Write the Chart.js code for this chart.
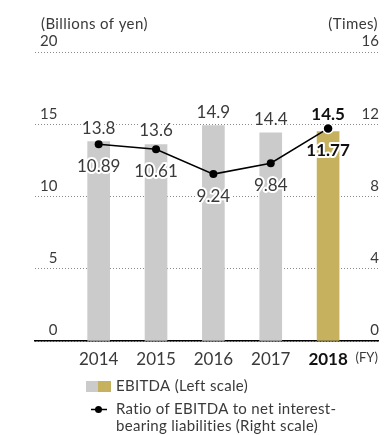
<!DOCTYPE html>
<html>
<head>
<meta charset="utf-8">
<script src="https://cdn.jsdelivr.net/npm/chart.js@4"></script>
<style>
  html, body { margin: 0; padding: 0; background: #fff; }
  #wrap { width: 392px; height: 435px; position: relative; }
</style>
</head>
<body>
<div id="wrap"><canvas id="c" width="392" height="435"></canvas></div>
<script>
// Fiscal years, EBITDA (billions of yen) and EBITDA / net interest-bearing liabilities (times)
const years = [2014, 2015, 2016, 2017, 2018];
const ebitda = [13.8, 13.6, 14.9, 14.4, 14.5];
const ratio = [10.89, 10.61, 9.24, 9.84, 11.77];
const leftTicks = [0, 5, 10, 15, 20];
const rightTicks = [0, 4, 8, 12, 16];
const leftUnit = '(Billions of yen)';
const rightUnit = '(Times)';
const fyLabel = '(FY)';
const legendBar = 'EBITDA (Left scale)';
const legendLine = ['Ratio of EBITDA to net interest-', 'bearing liabilities (Right scale)'];

const FONT = 'Lato, "Open Sans", sans-serif';
const GRAY = '#cacbca';
const GOLD = '#c6b15e';
const TEXT = '#3a3a3a';
const last = years.length - 1;

function haloText(ctx, txt, x, y) {
  ctx.save();
  ctx.lineJoin = 'round';
  ctx.strokeStyle = '#fff';
  ctx.lineWidth = 4;
  ctx.strokeText(txt, x, y);
  ctx.restore();
  ctx.fillText(txt, x, y);
}

const valueLabels = {
  id: 'valueLabels',
  afterDatasetsDraw(chart) {
    const ctx = chart.ctx;
    const barMeta = chart.getDatasetMeta(1);
    const lineMeta = chart.getDatasetMeta(0);
    ctx.save();
    ctx.textAlign = 'center';
    ctx.textBaseline = 'alphabetic';
    barMeta.data.forEach((bar, i) => {
      const pt = lineMeta.data[i];
      const bold = i === last;
      ctx.font = (bold ? 'bold ' : '') + '17px ' + FONT;
      ctx.fillStyle = bold ? '#111' : TEXT;
      const y = Math.min(bar.y - 8, pt.y - 8);
      haloText(ctx, ebitda[i].toFixed(1), bar.x, y);
    });
    lineMeta.data.forEach((pt, i) => {
      const bold = i === last;
      ctx.font = (bold ? 'bold ' : '') + '17px ' + FONT;
      ctx.fillStyle = bold ? '#111' : TEXT;
      haloText(ctx, ratio[i].toFixed(2), pt.x, pt.y + 28);
    });
    ctx.restore();
  }
};

const extras = {
  id: 'extras',
  afterDraw(chart) {
    const ctx = chart.ctx;
    const a = chart.chartArea;
    ctx.save();
    ctx.fillStyle = TEXT;
    ctx.textBaseline = 'middle';
    ctx.font = '15px ' + FONT;
    ctx.letterSpacing = '0.4px';
    ctx.textAlign = 'left';
    ctx.fillText(leftUnit, a.left + 6, 24);
    ctx.textAlign = 'right';
    ctx.fillText(rightUnit, a.right, 24);

    // fiscal-year suffix after the last year label
    ctx.letterSpacing = '0px';
    ctx.font = '13px ' + FONT;
    ctx.textAlign = 'right';
    ctx.fillText(fyLabel, a.right, 358);

    // legend
    ctx.font = '15px ' + FONT;
    ctx.letterSpacing = '0.3px';
    ctx.textAlign = 'left';
    ctx.fillStyle = GRAY;
    ctx.fillRect(86, 381, 12, 11);
    ctx.fillStyle = GOLD;
    ctx.fillRect(98, 381, 13, 11);
    ctx.fillStyle = TEXT;
    ctx.fillText(legendBar, 116, 386);

    ctx.strokeStyle = '#000';
    ctx.lineWidth = 1.5;
    ctx.beginPath();
    ctx.moveTo(91, 409.5);
    ctx.lineTo(107, 409.5);
    ctx.stroke();
    ctx.fillStyle = '#000';
    ctx.beginPath();
    ctx.arc(98.5, 409.5, 3.5, 0, Math.PI * 2);
    ctx.fill();
    ctx.fillStyle = TEXT;
    ctx.fillText(legendLine[0], 116, 409.5);
    ctx.fillText(legendLine[1], 116, 426.5);
    ctx.restore();
  }
};

new Chart(document.getElementById('c'), {
  type: 'bar',
  data: {
    datasets: [
      {
        type: 'line',
        label: legendLine.join(' '),
        data: years.map((yr, i) => ({ x: yr, y: ratio[i] })),
        yAxisID: 'y1',
        borderColor: '#000',
        borderWidth: 1.5,
        pointRadius: years.map((_, i) => i === last ? 5 : 4),
        pointBackgroundColor: '#000',
        pointBorderColor: years.map((_, i) => i === last ? '#fff' : '#000'),
        pointBorderWidth: years.map((_, i) => i === last ? 1.5 : 0),
        tension: 0,
        order: 0
      },
      {
        type: 'bar',
        label: legendBar,
        data: years.map((yr, i) => ({ x: yr, y: ebitda[i] })),
        yAxisID: 'y',
        backgroundColor: years.map((_, i) => i === last ? GOLD : GRAY),
        borderWidth: 0,
        barThickness: 22,
        order: 1
      }
    ]
  },
  options: {
    responsive: false,
    animation: false,
    events: [],
    layout: { padding: { top: 52, left: 0, right: 0, bottom: 0 } },
    plugins: { legend: { display: false }, tooltip: { enabled: false } },
    scales: {
      x: {
        type: 'linear',
        offset: false,
        min: years[0] - 1.11,
        max: years[last] + 0.87,
        grid: { display: false, drawTicks: false, offset: false },
        border: { display: true, color: '#000', width: 1.5 },
        afterBuildTicks: (s) => { s.ticks = years.map(v => ({ value: v })); },
        afterFit: (s) => { s.height = 94; },
        ticks: {
          autoSkip: false,
          maxRotation: 0,
          padding: 8,
          color: (c) => c.index === last ? '#111' : TEXT,
          font: (c) => ({ family: FONT, size: 17, weight: c.index === last ? 'bold' : 'normal' }),
          callback: (v) => String(v)
        }
      },
      y: {
        position: 'left',
        min: 0, max: 20,
        afterBuildTicks: (s) => { s.ticks = leftTicks.map(v => ({ value: v })); },
        afterFit: (s) => { s.width = 35; },
        grid: { color: '#8a8a8a', lineWidth: 1, drawTicks: false },
        border: { display: false, dash: [1, 2] },
        ticks: {
          mirror: true,
          crossAlign: 'far',
          padding: 5,
          labelOffset: -10.5,
          color: TEXT,
          font: { family: FONT, size: 15 }
        }
      },
      y1: {
        position: 'right',
        min: 0, max: 16,
        afterBuildTicks: (s) => { s.ticks = rightTicks.map(v => ({ value: v })); },
        afterFit: (s) => { s.width = 14; },
        grid: { display: false, drawTicks: false },
        border: { display: false },
        ticks: {
          mirror: true,
          padding: 1,
          labelOffset: -10.5,
          color: TEXT,
          font: { family: FONT, size: 15 }
        }
      }
    }
  },
  plugins: [valueLabels, extras]
});
</script>
</body>
</html>
